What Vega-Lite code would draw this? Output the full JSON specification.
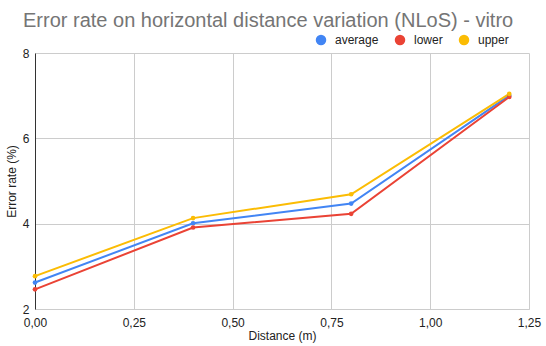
{
  "$schema": "https://vega.github.io/schema/vega-lite/v6.json",
  "autosize": "none",
  "width": 494,
  "height": 256,
  "padding": {"left": 35, "top": 53, "right": 17, "bottom": 37},
  "background": "white",
  "title": {
    "text": "Error rate on horizontal distance variation (NLoS) - vitro",
    "anchor": "start",
    "frame": "group",
    "dx": -12,
    "dy": 15,
    "offset": 2,
    "baseline": "alphabetic",
    "font": "Liberation Sans",
    "fontSize": 20,
    "fontWeight": "normal",
    "color": "#757575"
  },
  "data": {
    "values": [
      {"distance": 0.0, "series": "average", "rate": 2.62},
      {"distance": 0.4, "series": "average", "rate": 4.01},
      {"distance": 0.8, "series": "average", "rate": 4.47},
      {"distance": 1.2, "series": "average", "rate": 7.0},
      {"distance": 0.0, "series": "lower", "rate": 2.46},
      {"distance": 0.4, "series": "lower", "rate": 3.91},
      {"distance": 0.8, "series": "lower", "rate": 4.23},
      {"distance": 1.2, "series": "lower", "rate": 6.97},
      {"distance": 0.0, "series": "upper", "rate": 2.77},
      {"distance": 0.4, "series": "upper", "rate": 4.13},
      {"distance": 0.8, "series": "upper", "rate": 4.69},
      {"distance": 1.2, "series": "upper", "rate": 7.04}
    ]
  },
  "encoding": {
    "x": {
      "field": "distance",
      "type": "quantitative",
      "title": "Distance (m)",
      "scale": {"domain": [0, 1.25], "nice": false, "zero": false},
      "axis": {
        "values": [0, 0.25, 0.5, 0.75, 1.0, 1.25],
        "labelExpr": "replace(format(datum.value, '.2f'), '.', ',')",
        "labelFlush": false,
        "tickSize": 0,
        "labelPadding": 8,
        "domainColor": "#cccccc",
        "gridColor": "#cccccc",
        "titlePadding": 2
      }
    },
    "y": {
      "field": "rate",
      "type": "quantitative",
      "title": "Error rate (%)",
      "scale": {"domain": [2, 8], "nice": false, "zero": false},
      "axis": {
        "values": [2, 4, 6, 8],
        "tickSize": 0,
        "labelPadding": 6,
        "domainColor": "#333333",
        "gridColor": "#cccccc",
        "titlePadding": 4
      }
    },
    "color": {
      "field": "series",
      "type": "nominal",
      "scale": {"domain": ["average", "lower", "upper"], "range": ["#4285F4", "#EA4335", "#FBBC04"]},
      "legend": {
        "title": null,
        "orient": "none",
        "direction": "horizontal",
        "legendX": 280,
        "legendY": -19,
        "symbolType": "circle",
        "symbolSize": 110,
        "symbolStrokeWidth": 0,
        "labelFontSize": 12,
        "labelFont": "Liberation Sans",
        "labelColor": "#222222",
        "columnPadding": 15,
        "labelOffset": 8
      }
    }
  },
  "layer": [
    {"mark": {"type": "line", "strokeWidth": 2}},
    {"mark": {"type": "circle", "size": 22, "opacity": 1}}
  ],
  "config": {
    "view": {"stroke": null},
    "font": "Liberation Sans",
    "axis": {
      "labelFont": "Liberation Sans",
      "labelFontSize": 12,
      "labelColor": "#222222",
      "titleFont": "Liberation Sans",
      "titleFontSize": 12,
      "titleFontWeight": "normal",
      "titleColor": "#222222",
      "gridWidth": 1
    }
  }
}
